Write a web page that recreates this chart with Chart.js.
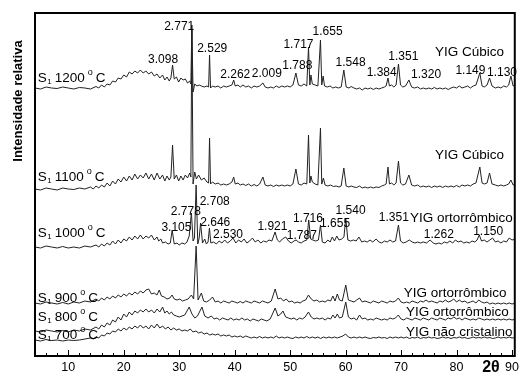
<!DOCTYPE html>
<html>
<head>
<meta charset="utf-8">
<script src="https://cdn.jsdelivr.net/npm/chart.js@4/dist/chart.umd.min.js"></script>
<style>
  html, body { margin:0; padding:0; background:#fff; }
  #wrap { width:523px; height:376px; }
</style>
</head>
<body>
<div id="wrap"><canvas id="myChart" width="523" height="376"></canvas></div>
<script>
// Difratogramas S1 (700 a 1200 C), [2theta, intensidade relativa]
const s1200 = [[4,268],[5,267],[6,269],[7,268],[8,267.5],[9,269],[10,268],[11,267],[12,268.5],[13,268],[14,267],[15,269.5],[15.5,268],[16,271],[16.5,269],[17,272],[17.5,271],[18,275],[18.5,274],[19,278],[19.5,277],[20,281],[20.5,279],[21,284],[21.5,282],[22,285],[22.5,283],[23,286],[23.5,283],[24,285],[24.5,282],[25,284],[25.5,280],[26,282],[26.5,278],[27,281],[27.4,276],[27.8,279],[28.2,275],[28.5,278],[28.8,291],[29.1,277],[29.5,279],[29.9,274],[30.3,278],[30.7,276],[31.1,277],[31.5,273],[31.9,275],[32.1,272],[32.28,331],[32.5,264],[32.8,272],[33.2,270],[33.6,271],[34,270],[34.5,269],[35,270],[35.3,269],[35.47,301],[35.65,268],[36,270],[36.5,269],[37,270],[37.5,268],[38,270],[38.5,269],[39,270],[39.5,271],[39.82,276],[40.1,270],[40.6,271],[41,269],[41.5,271],[42,269],[42.5,270],[43,268],[43.5,270],[44,269],[44.5,270],[45.09,273],[45.5,269],[46,268],[46.5,269],[47,268],[47.5,270],[48,268.5],[48.5,270],[49,269],[49.5,270],[50,269],[50.5,271],[51.04,283],[51.5,271],[52,270],[52.5,272],[53,270],[53.31,309],[53.55,271],[53.75,281],[54,272],[54.5,271],[55,270],[55.47,316],[55.7,271],[55.95,280],[56.2,270],[56.7,269],[57.2,270],[57.7,268],[58.2,269],[58.7,268],[59.2,269],[59.68,286],[60.1,269],[60.6,268],[61,269.5],[61.5,268],[62,267],[62.5,268],[63,266],[63.5,268],[64,267],[64.5,268],[65,266.5],[65.5,268],[66,267],[66.5,268],[67,269],[67.3,270],[67.64,278],[67.9,270],[68.3,271],[68.7,269],[69.1,271],[69.53,292],[69.9,271],[70.3,269],[70.8,270],[71.41,276],[71.9,269],[72.4,268],[73,269],[73.5,267],[74,268],[74.5,267],[75,268],[75.5,267],[76,268.5],[76.5,267],[77,268],[77.5,267],[78,268],[78.5,266.5],[79,268],[79.5,269],[80,268],[80.5,270],[81,268],[81.5,269],[82,270],[82.5,268],[83,270],[83.5,271],[84.2,283],[84.6,270],[85,269],[85.5,271],[85.95,278],[86.4,270],[87,268],[87.5,269],[88,268],[88.5,270],[89,269],[89.4,271],[89.8,280],[90.2,270],[90.7,271]];

const s1100 = [[4,167],[5,166],[6,168],[7,167],[8,166],[9,168],[10,167],[11,166.5],[12,168],[13,167],[14,169],[14.5,167],[15,170],[15.5,168],[16,171],[16.5,169],[17,173],[17.5,170],[18,175],[18.5,172],[19,177],[19.5,174],[20,179],[20.5,175],[21,180],[21.5,176],[22,182],[22.5,177],[23,181],[23.5,178],[24,183],[24.5,177],[25,182],[25.5,176],[26,183],[26.5,177],[27,181],[27.4,175],[27.8,180],[28.2,176],[28.5,179],[28.8,211],[29.1,177],[29.5,181],[29.9,175],[30.3,180],[30.7,176],[31.1,181],[31.5,178],[31.9,183],[32.1,179],[32.28,326],[32.5,172],[32.8,184],[33.1,177],[33.5,181],[34,176],[34.5,178],[35,174],[35.3,173],[35.47,218],[35.65,172],[36,174],[36.5,172],[37,173],[37.5,171],[38,172],[38.5,171],[39,172],[39.5,174],[39.82,179],[40.1,172],[40.6,173],[41,171],[41.5,172],[42,170.5],[42.5,172],[43,170],[43.5,171.5],[44,170],[44.5,172],[45.09,179],[45.5,171],[46,170],[46.5,171],[47,169.5],[47.5,171],[48,170],[48.5,171],[49,170],[49.5,171],[50,170],[50.5,172],[51.04,187],[51.5,172],[52,171],[52.5,173],[53,172],[53.31,221],[53.55,173],[53.75,180],[54,174],[54.5,172],[55,171],[55.47,228],[55.7,172],[56,178],[56.3,171],[56.8,170],[57.3,171],[57.8,169.5],[58.3,170],[58.8,169],[59.2,170],[59.68,188],[60.1,170],[60.6,169],[61,170],[61.5,169],[62,168.5],[62.5,170],[63,168],[63.5,169],[64,168],[64.5,169],[65,168],[65.5,169],[66,168.5],[66.5,170],[67,171],[67.3,172],[67.64,189],[67.9,172],[68.3,173],[68.7,171],[69.1,173],[69.53,195],[69.9,173],[70.3,171],[70.8,172],[71.41,181],[71.9,171],[72.4,170],[73,171],[73.5,169],[74,170],[74.5,169],[75,170],[75.5,168.5],[76,170],[76.5,169],[77,170],[77.5,168.5],[78,170],[78.5,169],[79,170],[79.5,169],[80,170.5],[80.5,169],[81,171],[81.5,170],[82,171],[82.5,170],[83,172],[83.5,173],[84.2,189],[84.6,173],[85,172],[85.5,173],[85.95,183],[86.4,172],[87,171],[87.5,170],[88,171],[88.5,170],[89,171],[89.4,172],[89.8,176],[90.2,171],[90.7,172]];

const s1000 = [[4,109],[5,108],[6,110],[7,109],[8,108],[9,109.5],[10,108],[11,109],[12,108],[13,110],[14,109],[15,111],[15.5,109],[16,112],[16.5,110],[17,113],[17.5,111],[18,115],[18.5,112],[19,116],[19.5,113],[20,117],[20.5,115],[21,119],[21.5,116],[22,120],[22.5,117],[23,121],[23.5,117],[24,120],[24.5,118],[25,121],[25.5,116],[26,119],[26.3,115],[26.7,117],[27,113],[27.5,114],[28,112],[28.4,113],[28.73,126],[29.1,112],[29.6,113],[30,111],[30.5,113],[31,112],[31.4,114],[31.8,120],[32.2,143],[32.5,115],[32.75,118],[33.05,171],[33.35,112],[33.6,118],[33.85,133],[34.2,113],[34.6,117],[34.9,112],[35.2,114],[35.45,128],[35.7,113],[36.2,114],[36.7,112],[37.2,115],[37.7,113],[38.2,116],[38.7,113],[39.2,115],[39.7,118],[40.2,113],[40.7,116],[41.2,114],[41.7,117],[42.2,113],[42.7,115],[43.2,118],[43.7,114],[44.2,116],[44.7,113],[45.2,115],[45.7,114],[46.2,116],[46.7,115],[47.28,124],[47.7,116],[48.1,114],[48.6,117],[49.2,119],[49.7,115],[50.2,113],[50.7,115],[51.07,116],[51.5,114],[52,113],[52.5,115],[53,116],[53.35,136],[53.7,117],[54.1,116],[54.6,115],[55.1,116],[55.47,131],[55.8,114],[56.3,113],[56.8,116],[57.2,114],[57.6,119],[58,115],[58.4,120],[58.8,116],[59.3,117],[59.7,119],[60.03,138],[60.4,116],[60.9,115],[61.4,116],[61.9,115],[62.4,119],[62.9,114],[63.4,115],[63.9,114],[64.4,116],[64.9,114],[65.5,117],[66,114],[66.5,113],[67,115],[67.5,114],[68,116],[68.5,114],[69,115],[69.53,131],[69.9,115],[70.4,113],[70.9,114],[71.5,116],[72,114],[72.5,113],[73,114],[73.5,113],[74,114],[74.6,113],[75.23,116],[75.8,113],[76.3,112],[76.8,113],[77.3,112],[77.8,114],[78.3,113],[78.8,115],[79.3,113],[79.8,116],[80.3,114],[80.8,115],[81.3,113],[81.8,114],[82.3,113],[82.8,115],[83.3,114],[83.7,116],[84.1,121],[84.5,115],[85,116],[85.5,114],[86,116],[86.5,118],[87,114],[87.5,115],[88,113],[88.5,115],[89,114],[89.5,118],[90,116],[90.7,117]];

const s900 = [[4,53],[5,52],[6,54],[7,53],[8,52],[9,53.5],[10,52],[11,54],[12,53],[13,55],[14,54],[15,57],[15.5,55],[16,58],[16.5,56],[17,59],[17.5,57],[18,60],[18.5,58],[19,61],[19.5,59],[20,62],[20.5,60],[21,63],[21.5,61],[22,64],[22.5,62],[23,65],[23.5,63],[24,66],[24.5,67],[25,62],[25.5,63],[26,61],[26.4,66],[26.8,60],[27.3,59],[27.8,57],[28.3,58],[28.7,61],[29.1,57],[29.6,56],[30.1,57],[30.6,55],[31.1,56],[31.6,57],[32.2,61],[32.6,57],[33.05,110],[33.4,56],[34,63],[34.4,55],[34.9,54],[35.5,56],[36,59],[36.5,54],[37,55],[37.5,53],[38,55],[38.5,54],[39,53],[39.5,55],[40,54],[40.5,53],[41,54.5],[41.5,53],[42,55],[42.5,54],[43,53],[43.5,55],[44,54],[44.5,53],[45,55],[45.5,54],[46,53],[46.6,55],[47.3,67],[47.8,57],[48.3,58],[48.8,55],[49.3,57],[49.8,54],[50.3,55],[50.8,53],[51.3,54],[51.8,53],[52.3,55],[52.8,56],[53.3,61],[53.8,57],[54.3,55],[54.8,56],[55.3,54],[55.8,55],[56.3,54],[56.8,56],[57.3,55],[57.7,60],[58.1,55],[58.5,62],[58.9,56],[59.4,55],[60.03,71],[60.5,56],[61,55],[61.5,54],[62,56],[62.5,58],[63,54],[63.5,55],[64,54],[64.5,53],[65,55],[65.5,54],[66,53],[66.5,55],[67,54],[67.5,53],[68,55],[68.5,54],[69,55],[69.5,58],[70,54],[70.5,53],[71,54],[71.5,53],[72,55],[72.5,54],[73,53],[73.5,55],[74,54],[74.5,56],[75,54],[75.5,55],[76,54],[76.5,53],[77,55],[77.5,54],[78,56],[78.5,54],[79,55],[79.5,57],[80,54],[80.5,56],[81,54],[81.5,55],[82,53],[82.5,54],[83,55],[83.5,53],[84,56],[84.5,54],[85,53],[85.5,54],[86,52],[86.5,53],[87,52],[87.5,53],[88,52],[88.5,53],[89,52],[89.5,53],[90,52],[90.7,53]];

const s800 = [[4,25],[5,24],[6,26],[7,25],[8,24],[9,25.5],[10,24],[11,26],[12,25],[13,27],[14,26],[15,29],[15.5,27],[16,31],[16.5,29],[17,33],[17.5,31],[18,36],[18.5,34],[19,39],[19.5,36],[20,42],[20.5,39],[21,44],[21.5,41],[22,45],[22.5,43],[23,46],[23.5,44],[24,47],[24.5,44],[25,46],[25.5,43],[26,47],[26.5,44],[27,49],[27.4,43],[27.8,45],[28.2,42],[28.6,44],[29,41],[29.5,40],[30,39],[30.5,40],[31,41],[31.8,49],[32.3,42],[32.8,38],[33.3,40],[34.1,49],[34.6,40],[35.2,38],[35.8,40],[36.3,37],[36.8,38],[37.3,36],[37.8,38],[38.3,37],[38.8,36],[39.3,38],[39.8,36],[40.3,37],[40.8,36],[41.3,38],[41.8,36],[42.3,37],[42.8,35],[43.3,37],[43.8,36],[44.3,35],[44.8,37],[45.3,36],[45.8,35],[46.4,37],[47.3,48],[47.8,40],[48.3,42],[48.7,45],[49.2,39],[49.7,38],[50.2,37],[50.7,38],[51.2,36],[51.7,38],[52.2,37],[52.7,39],[53.3,44],[53.8,39],[54.3,37],[54.8,38],[55.3,37],[55.8,38],[56.3,36],[56.8,38],[57.3,37],[57.7,41],[58.1,38],[58.5,42],[58.9,38],[59.4,39],[60.03,54],[60.5,39],[61,37],[61.5,38],[62,36],[62.5,41],[63,37],[63.5,38],[64,36],[64.5,37],[65,36],[65.5,38],[66,37],[66.5,36],[67,37],[67.5,36],[68,38],[68.5,37],[69,38],[69.5,41],[70,37],[70.5,36],[71,38],[71.5,37],[72,36],[72.5,38],[73,37],[73.5,36],[74,38],[74.5,37],[75,36],[75.5,38],[76,37],[76.5,36],[77,38],[77.5,37],[78,36],[78.5,38],[79,37],[79.5,39],[80,37],[80.5,38],[81,36],[81.5,38],[82,37],[82.5,36],[83,37],[83.5,36],[84,38],[84.5,37],[85,36],[85.5,37],[86,36],[86.5,37],[87,36],[87.5,37],[88,36],[88.5,37],[89,36],[89.5,37],[90,36],[90.7,37]];

const s700 = [[4,16],[5,15],[6,16.5],[7,15.5],[8,16],[9,15],[10,16],[11,15.5],[12,16],[13,17],[14,18],[14.5,17],[15,19],[15.5,18],[16,21],[16.5,20],[17,23],[17.5,22],[18,25],[18.5,24],[19,27],[19.5,25],[20,28],[20.5,26],[21,29],[21.5,27],[22,30],[22.5,28],[23,31],[23.5,28],[24,30],[24.5,27],[25,31],[25.5,28],[26,32],[26.5,28],[27,30],[27.5,27],[28,29],[28.5,26],[29,28],[29.5,26],[30,27],[30.5,25],[31,26],[31.5,25],[32,27],[32.5,24],[33,25],[33.5,23],[34,24],[34.5,22],[35,23],[35.5,21],[36,22],[36.5,21],[37,22],[37.5,20],[38,21],[38.5,20],[39,21],[39.5,19],[40,20],[40.5,19],[41,20],[41.5,18.5],[42,20],[42.5,19],[43,18],[43.5,19],[44,18],[44.5,19.5],[45,18],[45.5,19],[46,18],[46.5,19],[47,18],[47.5,20],[48,18],[48.5,19],[49,18],[49.5,19],[50,18],[50.5,17.5],[51,19],[51.5,18],[52,19],[52.5,18],[53,19.5],[53.5,18],[54,19],[54.5,18],[55,19],[55.5,17.5],[56,19],[56.5,18],[57,19],[57.5,18],[58,19],[58.5,18],[59,19],[59.5,20],[60,22],[60.5,19],[61,18],[61.5,19],[62,18],[62.5,19],[63,18],[63.5,19],[64,18],[64.5,17.5],[65,18.5],[65.5,18],[66,19],[66.5,18],[67,18.5],[67.5,17.5],[68,19],[68.5,18],[69,19],[69.5,18],[70,19],[70.5,18],[71,19],[71.5,17.5],[72,18.5],[72.5,18],[73,19],[73.5,17.5],[74,18.5],[74.5,18],[75,19],[75.5,18],[76,18.5],[76.5,17.5],[77,18],[77.5,19],[78,18],[78.5,18.5],[79,17.5],[79.5,18.5],[80,18],[80.5,19],[81,18],[81.5,18.5],[82,17.5],[82.5,18],[83,19],[83.5,18],[84,18.5],[84.5,18],[85,19],[85.5,18],[86,18.5],[86.5,17.5],[87,18],[87.5,19],[88,18],[88.5,18.5],[89,18],[89.5,19],[90,18],[90.7,18.5]];

// eixo x
const ticksX = [10, 20, 30, 40, 50, 60, 70, 80, 90];

// rótulos dos picos (d em Angstrom): [texto, 2theta, intensidade]
const picos1200 = [['3.098',27.1,296],['2.771',30.0,329],['2.529',35.95,307],['2.262',40.1,281],['2.009',45.8,282],['1.788',51.3,290],['1.717',51.5,311],['1.655',56.75,324],['1.548',60.9,293],['1.384',66.5,283],['1.351',70.4,299],['1.320',74.5,281],['1.149',82.5,285],['1.130',88.2,283]];
const picos1000 = [['3.105',29.5,128],['2.778',31.2,144],['2.708',36.4,154],['2.646',36.5,133],['2.530',38.8,121],['1.921',46.8,129],['1.787',52.1,120],['1.716',53.2,137],['1.655',58.1,132],['1.540',60.9,145],['1.351',68.7,138],['1.262',76.8,121],['1.150',85.7,124]];

// fases (alinhadas à esquerda)
const fases = [['YIG Cúbico',76.1,304],['YIG Cúbico',76.1,201],['YIG ortorrômbico',71.6,138],['YIG ortorrômbico',70.5,63],['YIG ortorrômbico',70.9,44],['YIG não cristalino',70.9,24]];

// amostras
const amostras = [['1200',4.5,278],['1100',4.5,179],['1000',4.5,123],['900',4.5,58],['800',4.5,39],['700',4.5,21]];

const FONTE = '"Liberation Sans", Arial, sans-serif';

(function(){
  'use strict';

  function paraXY(serie){
    return serie.map(p => ({x:p[0], y:p[1]}));
  }

  function desenharAmostra(ctx, x, y, temp){
    ctx.textAlign = 'left';
    ctx.textBaseline = 'middle';
    ctx.font = '13.5px ' + FONTE;
    ctx.fillText('S', x, y);
    x += ctx.measureText('S').width + 0.5;
    ctx.font = '8px ' + FONTE;
    ctx.fillText('1', x, y + 4);
    x += ctx.measureText('1').width + 3;
    ctx.font = '13.5px ' + FONTE;
    ctx.fillText(temp, x, y);
    x += ctx.measureText(temp).width + 3;
    ctx.font = '9px ' + FONTE;
    ctx.fillText('o', x, y - 5);
    x += ctx.measureText('o').width + 3;
    ctx.font = '13.5px ' + FONTE;
    ctx.fillText('C', x, y);
  }

  const anotacoes = {
    id: 'anotacoes',
    afterDraw(chart){
      const ctx = chart.ctx;
      const xs = chart.scales.x, ys = chart.scales.y;
      const a = chart.chartArea;
      ctx.save();
      ctx.fillStyle = '#000';
      ctx.strokeStyle = '#000';

      // moldura
      ctx.lineWidth = 2;
      ctx.strokeRect(a.left, a.top, a.right - a.left, a.bottom - a.top);

      // marcas do eixo x para dentro
      ctx.lineWidth = 1;
      ctx.beginPath();
      for (let v = 4; v <= 90; v += 2){
        const px = Math.round(xs.getPixelForValue(v)) + 0.5;
        const len = (v % 10 === 0) ? 6 : 3;
        ctx.moveTo(px, a.bottom);
        ctx.lineTo(px, a.bottom - len);
      }
      ctx.stroke();

      // rótulos dos picos
      ctx.font = '12px ' + FONTE;
      ctx.textAlign = 'center';
      ctx.textBaseline = 'middle';
      picos1200.concat(picos1000).forEach(p => {
        ctx.fillText(p[0], xs.getPixelForValue(p[1]), ys.getPixelForValue(p[2]));
      });

      // fases
      ctx.font = '13.5px ' + FONTE;
      ctx.textAlign = 'left';
      fases.forEach(f => {
        ctx.fillText(f[0], xs.getPixelForValue(f[1]), ys.getPixelForValue(f[2]));
      });

      // amostras
      amostras.forEach(s => {
        desenharAmostra(ctx, xs.getPixelForValue(s[1]), ys.getPixelForValue(s[2]), s[0]);
      });

      // 2 theta
      ctx.font = 'bold 16px ' + FONTE;
      ctx.textAlign = 'center';
      ctx.fillText('2θ', xs.getPixelForValue(86.2), a.bottom + 12);

      // título do eixo y
      ctx.save();
      ctx.translate(18, ys.getPixelForValue(255));
      ctx.rotate(-Math.PI / 2);
      ctx.font = 'bold 13px ' + FONTE;
      ctx.textAlign = 'center';
      ctx.fillText('Intensidade relativa', 0, 0);
      ctx.restore();

      ctx.restore();
    }
  };

  function serieDataset(serie){
    return {
      data: paraXY(serie),
      borderColor: '#222',
      borderWidth: 1,
      pointRadius: 0,
      tension: 0,
      fill: false
    };
  }

  const ctx = document.getElementById('myChart').getContext('2d');
  new Chart(ctx, {
    type: 'line',
    data: {
      datasets: [s1200, s1100, s1000, s900, s800, s700].map(serieDataset)
    },
    options: {
      responsive: false,
      animation: false,
      layout: { padding: { left: 35, top: 13, right: 7, bottom: 0 } },
      plugins: { legend: { display: false }, tooltip: { enabled: false } },
      scales: {
        x: {
          type: 'linear',
          min: 4,
          max: 90.5,
          grid: { display: false, drawTicks: false },
          border: { display: false },
          afterBuildTicks: s => { s.ticks = ticksX.map(v => ({ value: v })); },
          afterFit: s => { s.height = 20; },
          ticks: {
            color: '#000',
            padding: 4,
            maxRotation: 0,
            font: { family: FONTE, size: 12.5 },
            callback: v => String(v)
          }
        },
        y: { display: false, min: 0, max: 343 }
      }
    },
    plugins: [anotacoes]
  });
})();
</script>
</body>
</html>
